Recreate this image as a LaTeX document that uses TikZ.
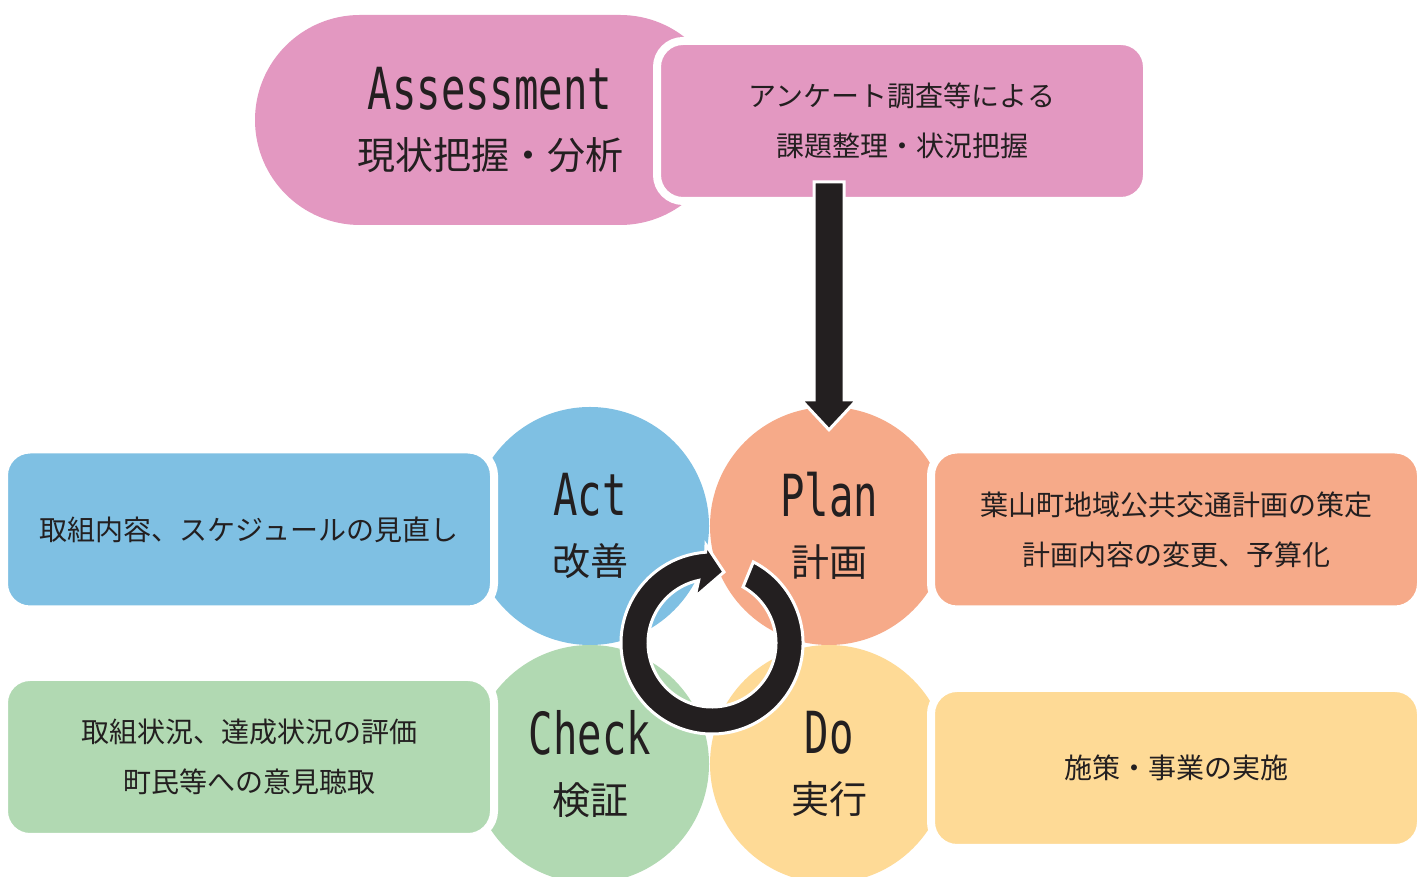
\documentclass[tikz,border=0pt]{standalone}
\usepackage{fontspec}
\setmainfont{Noto Sans CJK JP}
\newfontfamily\latinfont[FakeStretch=0.7]{DejaVu Sans Mono}
\usepackage{tikz}
\usetikzlibrary{positioning,calc}

\definecolor{pdcapink}{HTML}{E398C1}
\definecolor{pdcablue}{HTML}{7FC0E3}
\definecolor{pdcasalmon}{HTML}{F6AA89}
\definecolor{pdcagreen}{HTML}{B1D9B2}
\definecolor{pdcayellow}{HTML}{FEDA96}
\definecolor{inkblack}{HTML}{231F20}

\newcommand{\stagefont}{\fontsize{38}{60}\selectfont}
\newcommand{\memofont}{\fontsize{28}{50}\selectfont}
\newcommand{\stagename}[1]{{\latinfont\fontsize{58}{60}\selectfont #1}}

\begin{document}
\begin{tikzpicture}[x=1pt,y=1pt,
  pill/.style={rounded corners=105pt, minimum width=470pt, minimum height=210pt,
               inner sep=0pt, align=center, text=inkblack, font=\stagefont},
  stage/.style={circle, minimum size=238pt, inner sep=0pt, align=center,
                text=inkblack, font=\stagefont},
  memo/.style={draw=white, line width=8pt, rounded corners=26pt,
               minimum width=490pt, minimum height=160pt, inner sep=0pt,
               align=center, text=inkblack, font=\memofont},
  fatarrow/.style={fill=inkblack, draw=white, line width=3pt},
  loopring/.style={fill=inkblack, draw=white, line width=3pt}
]
\useasboundingbox (0,0) rectangle (1426,877);
\fill[white] (0,0) rectangle (1426,877);
\clip (0,0) rectangle (1426,877);

% assessment
\node[pill, fill=pdcapink] (assess) at (490,757) {\stagename{Assessment}\\現状把握・分析};
\node[memo, fill=pdcapink] (survey) at (902,756) {アンケート調査等による\\課題整理・状況把握};

% PDCA circles
\node[stage, fill=pdcablue]   (act)   at (590,351) {\stagename{Act}\\改善};
\node[stage, fill=pdcasalmon] (plan)  at (829,351) {\stagename{Plan}\\計画};
\node[stage, fill=pdcagreen]  (check) at (590,113) {\stagename{Check}\\検証};
\node[stage, fill=pdcayellow] (do)    at (829,113) {\stagename{Do}\\実行};

\node[memo, fill=pdcablue]   (actmemo)   at (249,347.5) {取組内容、スケジュールの見直し};
\node[memo, fill=pdcasalmon] (planmemo)  at (1176,347.5) {葉山町地域公共交通計画の策定\\計画内容の変更、予算化};
\node[memo, fill=pdcagreen]  (checkmemo) at (249,120) {取組状況、達成状況の評価\\町民等への意見聴取};
\node[memo, fill=pdcayellow] (domemo)    at (1176,109) {施策・事業の実施};

% survey -> plan
\coordinate (droptop) at ($(survey.south -| plan.north)+(0,23)$);
\coordinate (droptip) at ($(plan.north)+(0,-23)$);
\draw[fatarrow] ([xshift=-15pt]droptop) -- ([xshift=-15pt,yshift=30pt]droptip)
  -- ([xshift=-28pt,yshift=30pt]droptip) -- (droptip)
  -- ([xshift=28pt,yshift=30pt]droptip) -- ([xshift=15pt,yshift=30pt]droptip)
  -- ([xshift=15pt]droptop) -- cycle;

% cycle mark
\coordinate (hub) at (712,234);
\begin{scope}[shift={(hub)}]
  \draw[loopring] (63:91) arc[start angle=63, end angle=-266, radius=91]
    -- (-6,98) -- (12,71) -- (-17,46)
    -- (-258:64) arc[start angle=-258, end angle=61, radius=64] -- cycle;
\end{scope}
\end{tikzpicture}
\end{document}
